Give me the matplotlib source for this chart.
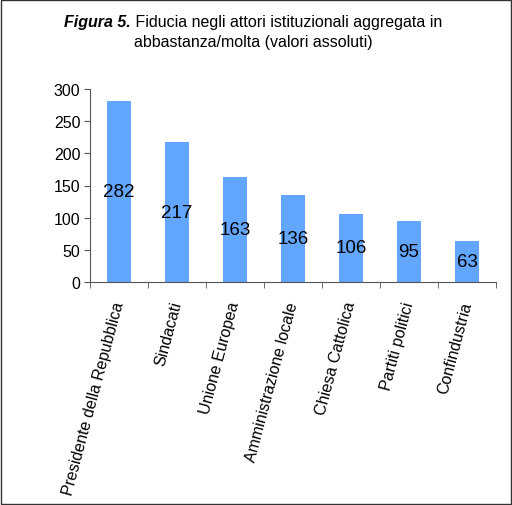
import numpy as np
import matplotlib.pyplot as plt
from matplotlib.patches import Rectangle

plt.rcParams['font.family'] = ['Liberation Sans', 'DejaVu Sans']

categories = ['Presidente della Repubblica', 'Sindacati', 'Unione Europea',
              'Amministrazione locale', 'Chiesa Cattolica', 'Partiti politici',
              'Confindustria']
values = [282, 217, 163, 136, 106, 95, 63]
yticks = [0, 50, 100, 150, 200, 250, 300]

fig = plt.figure(figsize=(5.12, 5.06), dpi=100)
ax = fig.add_axes([90 / 512, 1 - 283 / 506, 406 / 512, 193 / 506])

x = np.arange(len(categories))
ax.bar(x, values, width=0.41, color='#62a6ff')

# value labels at mid-height of each bar
for xi, v in zip(x, values):
    ax.text(xi, v / 2, str(v), ha='center', va='center', fontsize=13.5, color='black')

ax.set_xlim(-0.5, len(categories) - 0.5)
ax.set_ylim(0, 300)
ax.set_yticks(yticks)
ax.tick_params(axis='y', labelsize=11.5, length=4, color='#555555', pad=3)

# tick marks between categories, labels without marks
ax.set_xticks(np.arange(len(categories) + 1) - 0.5, minor=True)
ax.set_xticks(x)
ax.set_xticklabels(categories, rotation=75, ha='right', va='center',
                   rotation_mode='anchor', fontsize=11.5)
ax.tick_params(axis='x', which='major', length=0, pad=14)
ax.tick_params(axis='x', which='minor', length=4, color='#555555')

for s in ['top', 'right']:
    ax.spines[s].set_visible(False)
for s in ['left', 'bottom']:
    ax.spines[s].set_color('#555555')

# title with bold italic prefix
fig.canvas.draw()
r = fig.canvas.get_renderer()
t1 = fig.text(0, 0, 'Figura 5.', fontsize=11.5, fontweight='bold', fontstyle='italic')
t2 = fig.text(0, 0, ' Fiducia negli attori istituzionali aggregata in', fontsize=11.5)
w1 = t1.get_window_extent(r).width / fig.bbox.width
w2 = t2.get_window_extent(r).width / fig.bbox.width
x0 = 0.5 - (w1 + w2) / 2 - 0.005
y1 = 1 - 27 / 506
t1.set_position((x0, y1))
t2.set_position((x0 + w1, y1))
fig.text(0.5 - 0.005, 1 - 47 / 506, 'abbastanza/molta (valori assoluti)', fontsize=11.5, ha='center')

fig.patches.append(Rectangle((0.002, 0.002), 0.996, 0.996, transform=fig.transFigure,
                             fill=False, edgecolor='#333333', linewidth=1))

fig.savefig('out.png', dpi=100)
